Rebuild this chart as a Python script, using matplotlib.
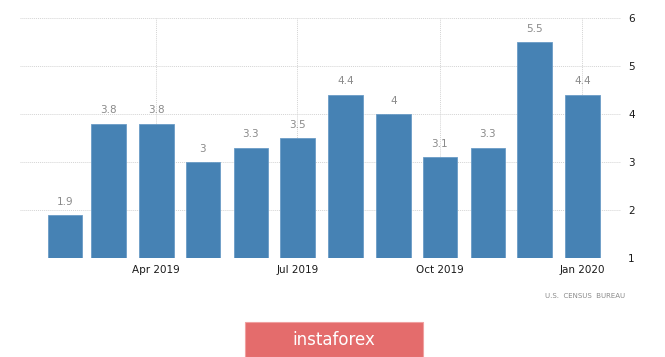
import matplotlib
matplotlib.use("Agg")
import matplotlib.pyplot as plt
import matplotlib.dates as mdates
from matplotlib.patches import Rectangle
import datetime as dt

# monthly values, Feb 2019 .. Jan 2020
months = ["2019-02", "2019-03", "2019-04", "2019-05", "2019-06", "2019-07",
          "2019-08", "2019-09", "2019-10", "2019-11", "2019-12", "2020-01"]
values = [1.9, 3.8, 3.8, 3, 3.3, 3.5, 4.4, 4, 3.1, 3.3, 5.5, 4.4]
value_labels = ["1.9", "3.8", "3.8", "3", "3.3", "3.5", "4.4", "4", "3.1", "3.3", "5.5", "4.4"]
tick_months = ["2019-04", "2019-07", "2019-10", "2020-01"]
tick_labels = ["Apr 2019", "Jul 2019", "Oct 2019", "Jan 2020"]
y_ticks = [1, 2, 3, 4, 5, 6]

def to_date(s):
    return dt.datetime.strptime(s + "-01", "%Y-%m-%d")

dates = [to_date(m) for m in months]
tick_dates = [to_date(m) for m in tick_months]

fig = plt.figure(figsize=(6.65, 3.57), dpi=100)
ax = fig.add_axes([0.030, 0.277, 0.904, 0.673])

ax.bar(dates, [v - 1 for v in values], bottom=1, width=22.3,
       color="#4682b4", edgecolor="#6a9cc6", linewidth=0.6, zorder=3)
for d, v, lab in zip(dates, values, value_labels):
    ax.annotate(lab, (mdates.date2num(d), v), xytext=(0, 6), textcoords="offset points",
                ha="center", va="bottom", fontsize=7.5, color="#8a8a8a")

ax.set_ylim(1, 6)
ax.set_xlim(dt.datetime(2019, 1, 3), dt.datetime(2020, 1, 26))
ax.set_yticks(y_ticks)
ax.set_xticks(tick_dates)
ax.set_xticklabels(tick_labels)
ax.yaxis.tick_right()
ax.tick_params(axis="both", length=0, labelsize=7.5, labelcolor="#1a1a1a")
ax.tick_params(axis="y", pad=5)
ax.tick_params(axis="x", pad=5)
for s in ax.spines.values():
    s.set_visible(False)
ax.grid(True, color="#d4d4d4", linestyle=(0, (1, 1)), linewidth=0.7, zorder=0)

fig.text(0.94, 0.172, "U.S.  CENSUS  BUREAU", ha="right", va="center",
         fontsize=5, color="#8a8a8a")

# logo box
fig.patches.append(Rectangle((245 / 665, 0), 178 / 665, 35 / 357,
                             transform=fig.transFigure, facecolor="#e46c6c",
                             edgecolor="#f0a0a0", linewidth=0.8))
fig.text(334 / 665, 17 / 357, "instaforex", ha="center", va="center",
         fontsize=12, color="white")

fig.savefig("out.png", dpi=100)
